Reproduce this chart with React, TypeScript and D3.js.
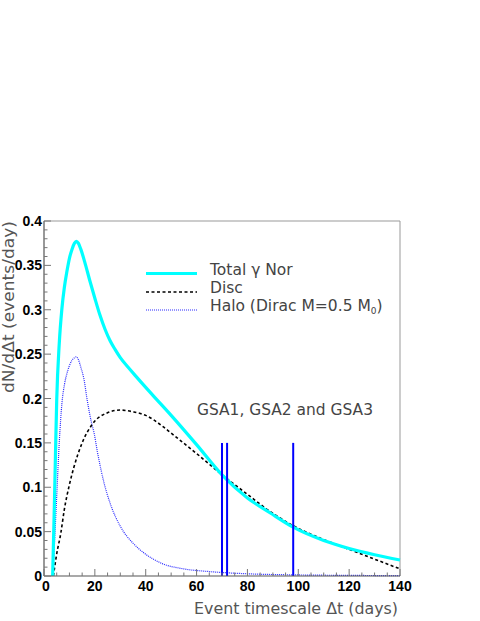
import React from "react";
import * as d3 from "d3";

// Total gamma Nor (days, events/day)
const totalDays = [3.4, 4, 4.5, 5, 6, 7, 8, 9, 10, 11, 12, 12.7, 13.5, 14.5, 16, 18, 20, 22, 24, 26, 28, 30, 33, 36, 40, 43, 50, 60, 70, 80, 89, 98, 110, 120, 130, 140];
const totalVals = [0, 0.07, 0.135, 0.198, 0.262, 0.3, 0.325, 0.343, 0.358, 0.368, 0.375, 0.377, 0.375, 0.368, 0.354, 0.333, 0.313, 0.294, 0.278, 0.265, 0.255, 0.246, 0.2355, 0.2255, 0.2125, 0.203, 0.181, 0.148, 0.114, 0.088, 0.071, 0.055, 0.04, 0.031, 0.024, 0.018];

// Disc
const discDays = [3.7, 5, 6.6, 8, 10, 11.8, 15, 19, 25, 30, 35, 40, 46.5, 50, 60, 70, 80, 89, 98, 110, 120, 130, 140];
const discVals = [0, 0.025, 0.048, 0.075, 0.103, 0.123, 0.15, 0.171, 0.184, 0.187, 0.185, 0.181, 0.169, 0.161, 0.138, 0.114, 0.092, 0.0725, 0.0567, 0.041, 0.03, 0.019, 0.008];

// Halo (Dirac M=0.5 M0)
const haloDays = [3.4, 4, 5, 6, 7, 8, 9, 10, 11, 12, 12.7, 13.5, 14.5, 15.7, 17, 18.5, 19.7, 21, 23.6, 26, 30, 35, 39.3, 46.5, 55, 65, 80, 100, 120, 140];
const haloVals = [0, 0.03, 0.09, 0.15, 0.193, 0.215, 0.228, 0.237, 0.243, 0.246, 0.247, 0.244, 0.235, 0.222, 0.198, 0.175, 0.161, 0.14, 0.105, 0.082, 0.056, 0.037, 0.026, 0.014, 0.008, 0.005, 0.0025, 0.0012, 0.0007, 0.0004];

// GSA events
const gsaDays = [70, 72, 98];
const gsaHeight = 0.15;

const xTicks = [0, 20, 40, 60, 80, 100, 120, 140];
const xTickLabels = ["0", "20", "40", "60", "80", "100", "120", "140"];
const yTicks = [0, 0.05, 0.1, 0.15, 0.2, 0.25, 0.3, 0.35, 0.4];
const yTickLabels = ["0", "0.05", "0.1", "0.15", "0.2", "0.25", "0.3", "0.35", "0.4"];

const legendLabels = ["Total \u03b3 Nor", "Disc", "Halo (Dirac M=0.5 M"];

const W = 480;
const H = 621;
const m = { left: 44, right: 80, top: 221, bottom: 45 };

const App = () => {
    const x = d3.scaleLinear().domain([0, 140]).range([m.left, W - m.right]);
    const y = d3.scaleLinear().domain([0, 0.4]).range([H - m.bottom, m.top]);

    const line = d3
        .line<[number, number]>()
        .curve(d3.curveMonotoneX)
        .x(d => x(d[0]))
        .y(d => y(d[1]));

    const zip = (a: number[], b: number[]) => a.map((v, i) => [v, b[i]] as [number, number]);

    const xMinor = d3.range(0, 141, 5);
    const yMinor = d3.range(0, 0.401, 0.01);

    const sans = "'DejaVu Sans', sans-serif";
    const bold = "'Liberation Sans', Arial, sans-serif";
    const x0 = x(0), x1 = x(140), y0 = y(0), y1 = y(0.4);

    return (
        <svg width={W} height={H} style={{ position: "absolute", left: 0, top: 0, background: "#fff" }}>
            {/* frame */}
            <line x1={x0} x2={x1} y1={y1} y2={y1} stroke="#999" strokeWidth={1} />
            <line x1={x1} x2={x1} y1={y1} y2={y0} stroke="#999" strokeWidth={1} />

            {/* curves */}
            <path d={line(zip(haloDays, haloVals)) || ""} fill="none" stroke="#2a2aff" strokeWidth={1.2} strokeDasharray="1,1" />
            <path d={line(zip(discDays, discVals)) || ""} fill="none" stroke="#000" strokeWidth={1.6} strokeDasharray="3,2.5" />
            <path d={line(zip(totalDays, totalVals)) || ""} fill="none" stroke="#00ffff" strokeWidth={3.2} strokeLinejoin="round" />

            {/* GSA event lines */}
            {gsaDays.map(d => (
                <line key={d} x1={x(d)} x2={x(d)} y1={y(0)} y2={y(gsaHeight)} stroke="#0000ff" strokeWidth={2} />
            ))}
            <text x={197} y={415} fontFamily={sans} fontSize={16} fill="#444" textLength={176} lengthAdjust="spacingAndGlyphs">GSA1, GSA2 and GSA3</text>

            {/* axes */}
            <line x1={x0} x2={x1} y1={y0} y2={y0} stroke="#555" strokeWidth={1.2} />
            <line x1={x0} x2={x0} y1={y0} y2={y1} stroke="#555" strokeWidth={1.2} />
            {xMinor.map(d => (
                <line key={"xm" + d} x1={x(d)} x2={x(d)} y1={y0} y2={y0 - (d % 20 === 0 ? 7 : 3.5)} stroke="#777" strokeWidth={1} />
            ))}
            {yMinor.map((d, i) => (
                <line key={"ym" + i} x1={x0} x2={x0 + (i % 5 === 0 ? 7 : 3.5)} y1={y(d)} y2={y(d)} stroke="#777" strokeWidth={1} />
            ))}
            {xTicks.map((d, i) => (
                <text key={"xt" + d} x={x(d) + (i === 0 ? 2 : 0)} y={y0 + 14.5} textAnchor="middle" fontFamily={bold} fontWeight="bold" fontSize={14} fill="#000">
                    {xTickLabels[i]}
                </text>
            ))}
            {yTicks.map((d, i) => (
                <text key={"yt" + i} x={x0 - 2} y={y(d)} dy="0.36em" textAnchor="end" fontFamily={bold} fontWeight="bold" fontSize={14} fill="#000">
                    {yTickLabels[i]}
                </text>
            ))}

            {/* axis titles */}
            <text x={x1 - 2} y={614} textAnchor="end" fontFamily={sans} fontSize={16} fill="#555" textLength={204} lengthAdjust="spacingAndGlyphs">
                Event timescale {"\u0394"}t (days)
            </text>
            <text transform={`translate(14,${y1}) rotate(-90)`} textAnchor="end" fontFamily={sans} fontSize={15} fill="#555" textLength={172} lengthAdjust="spacingAndGlyphs">
                dN/d{"\u0394"}t (events/day)
            </text>

            {/* legend */}
            <line x1={146} x2={197} y1={273.5} y2={273.5} stroke="#00ffff" strokeWidth={3} />
            <line x1={146} x2={197} y1={292} y2={292} stroke="#000" strokeWidth={1.6} strokeDasharray="3,2.5" />
            <line x1={146} x2={197} y1={310} y2={310} stroke="#2a2aff" strokeWidth={1.2} strokeDasharray="1,1" />
            <text x={210} y={275} fontFamily={sans} fontSize={15.5} fill="#444">{legendLabels[0]}</text>
            <text x={210} y={293} fontFamily={sans} fontSize={15.5} fill="#444">{legendLabels[1]}</text>
            <text x={210} y={311} fontFamily={sans} fontSize={15.5} fill="#444">
                {legendLabels[2]}
                <tspan fontSize={9} dy={3}>0</tspan>
                <tspan dy={-3}>)</tspan>
            </text>
        </svg>
    );
};

export default App;
